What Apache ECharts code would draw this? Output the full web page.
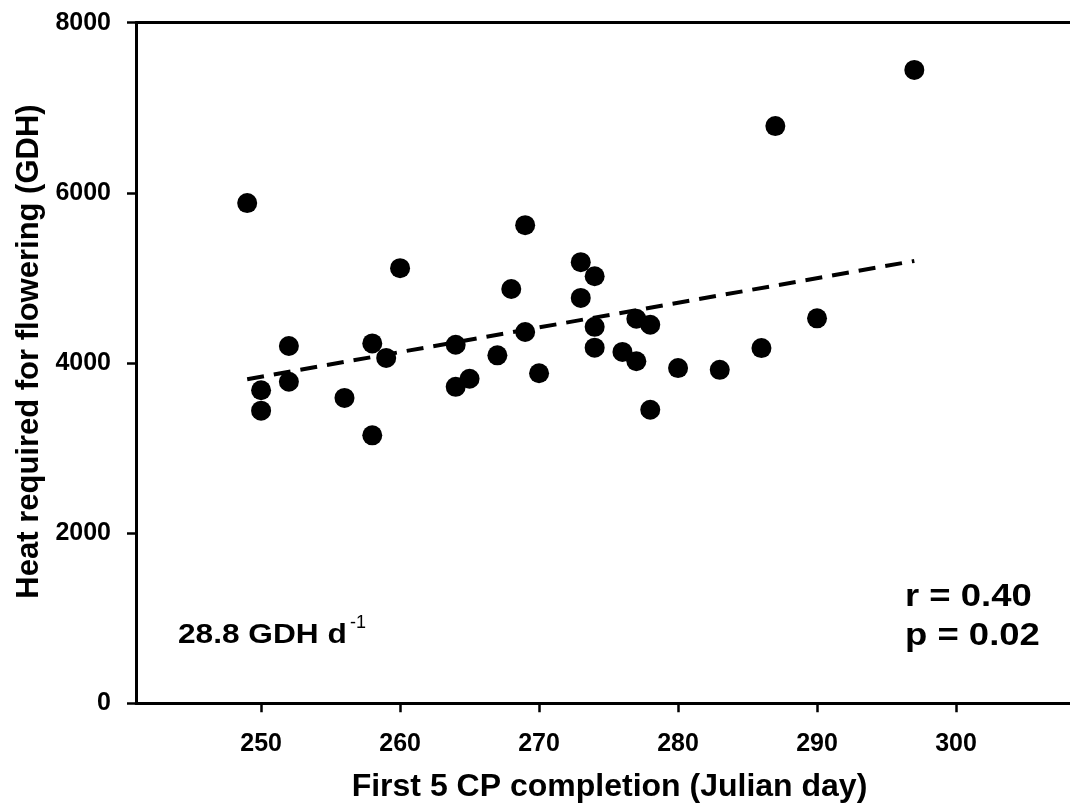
<!DOCTYPE html>
<html>
<head>
<meta charset="utf-8">
<script src="https://cdn.jsdelivr.net/npm/echarts@6/dist/echarts.min.js"></script>
<style>html,body{margin:0;padding:0;background:#fff}#c{width:1070px;height:810px}</style>
</head>
<body>
<div id="c"></div>
<script>
// Data
const days = [249,250,250,252,252,256,258,258,259,260,264,264,265,267,268,269,269,270,273,273,274,274,274,276,277,277,278,278,280,283,286,287,290,297];
const heat = [5880,3680,3440,4200,3780,3590,4230,3150,4060,5115,4215,3720,3815,4090,4870,5620,4365,3880,5185,4765,5020,4425,4180,4130,4520,4020,4450,3450,3940,3920,4175,6785,4525,7445];
const trendDays = [249, 297];
const trendHeat = [3810, 5200];
const xTicks = [250,260,270,280,290,300];
const xTitle = 'First 5 CP completion (Julian day)';
const yTitle = 'Heat required for flowering (GDH)';
const slopeText = '28.8 GDH d';
const slopeSup = '-1';
const rText = 'r = 0.40';
const pText = 'p = 0.02';

const chart = echarts.init(document.getElementById('c'), null, {renderer: 'canvas'});
const FONT = '"Liberation Sans", Arial, Helvetica, sans-serif';
const points = days.map((d, i) => [d, heat[i]]);
const trend = trendDays.map((d, i) => [d, trendHeat[i]]);

chart.setOption({
  animation: false,
  backgroundColor: '#fff',
  grid: {left: 136, right: 0, top: 22.7, bottom: 106.7, containLabel: false},
  xAxis: [{
    type: 'value', position: 'bottom', min: 241, max: 308.2,
    axisLine: {show: true, onZero: false, lineStyle: {color: '#000', width: 3}},
    axisTick: {show: true, customValues: xTicks, length: 9, lineStyle: {color: '#000', width: 2.5}},
    axisLabel: {customValues: xTicks, color: '#000', fontSize: 25, fontWeight: 'bold', fontFamily: FONT, margin: 28},
    splitLine: {show: false}
  }, {
    type: 'value', position: 'top', min: 241, max: 308.2,
    axisLine: {show: true, onZero: false, lineStyle: {color: '#000', width: 3}},
    axisTick: {show: false}, axisLabel: {show: false}, splitLine: {show: false}
  }],
  yAxis: {
    type: 'value', min: 0, max: 8000, interval: 2000,
    axisLine: {show: true, onZero: false, lineStyle: {color: '#000', width: 3}},
    axisTick: {show: true, length: 9, lineStyle: {color: '#000', width: 2.5}},
    axisLabel: {color: '#000', fontSize: 25, fontWeight: 'bold', fontFamily: FONT, margin: 25,
      formatter: v => String(v)},
    splitLine: {show: false}
  },
  series: [{
    type: 'line', data: trend, xAxisIndex: 0, symbol: 'none', z: 1,
    lineStyle: {color: '#000', width: 4, type: [17, 10]}
  }, {
    type: 'scatter', data: points, xAxisIndex: 0, symbol: 'circle', symbolSize: 20, z: 3,
    itemStyle: {color: '#000', opacity: 1}
  }],
  graphic: [
    {type: 'text', x: 609.5, y: 787, style: {text: xTitle, font: 'bold 32px ' + FONT, fill: '#000', textAlign: 'center', textVerticalAlign: 'middle'}},
    {type: 'text', x: 29, y: 351.5, rotation: Math.PI / 2, style: {text: yTitle, font: 'bold 31px ' + FONT, fill: '#000', textAlign: 'center', textVerticalAlign: 'middle'}},
    {type: 'text', x: 178, y: 635, scaleX: 1.13, style: {text: slopeText, font: 'bold 28px ' + FONT, fill: '#000', textAlign: 'left', textVerticalAlign: 'middle'}},
    {type: 'text', x: 350, y: 623, style: {text: slopeSup, font: '18px ' + FONT, fill: '#000', textAlign: 'left', textVerticalAlign: 'middle'}},
    {type: 'text', x: 905, y: 597.5, scaleX: 1.14, style: {text: rText, font: 'bold 32px ' + FONT, fill: '#000', textAlign: 'left', textVerticalAlign: 'middle'}},
    {type: 'text', x: 905, y: 636.5, scaleX: 1.14, style: {text: pText, font: 'bold 32px ' + FONT, fill: '#000', textAlign: 'left', textVerticalAlign: 'middle'}}
  ]
});
</script>
</body>
</html>
